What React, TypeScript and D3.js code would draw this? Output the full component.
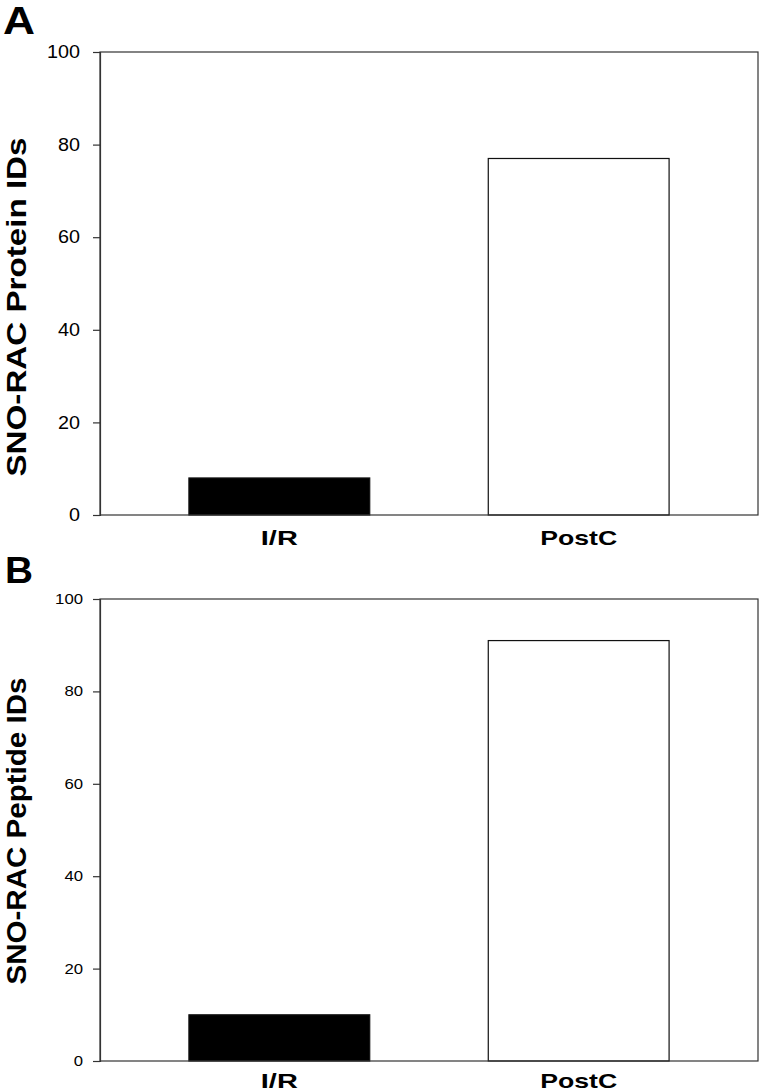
import { useEffect, useRef } from 'react';
import * as d3 from 'd3';

const categories = ['I/R', 'PostC'];
const proteinIds = [8, 77];
const peptideIds = [10, 91];
const yTicks = [0, 20, 40, 60, 80, 100];
const barColors = ['#000000', '#ffffff'];

const W = 760;
const H = 1091;
const FONT = '"Liberation Sans", Arial, sans-serif';

const App = () => {
    const svgRef = useRef(null);

    useEffect(() => {
        const svg = d3.select(svgRef.current);
        svg.selectAll('*').remove();

        // the original figure is stretched sideways a bit, so text widths are fixed with textLength
        const panels = [
            {
                letter: 'A', letterX: 3, letterY: 34, letterSize: 39, letterLen: 32,
                title: 'SNO-RAC Protein IDs', titleY: 307, titleSize: 28.5, titleLen: 339,
                values: proteinIds, top: 52, bottom: 515,
                tickFont: 17.5, digitW: 11, tickPad: 13, catOffset: 30,
            },
            {
                letter: 'B', letterX: 5, letterY: 583, letterSize: 36, letterLen: 28,
                title: 'SNO-RAC Peptide IDs', titleY: 831, titleSize: 28.5, titleLen: 307,
                values: peptideIds, top: 599, bottom: 1061,
                tickFont: 14, digitW: 9.3, tickPad: 10, catOffset: 27,
            },
        ];
        const catLen = { 'I/R': 37, 'PostC': 77 };

        const left = 100;
        const right = 758;

        panels.forEach(p => {
            const x = d3.scaleBand()
                .domain(categories)
                .range([left, right])
                .paddingInner(0.396)
                .paddingOuter(0.297);
            const y = d3.scaleLinear().domain([0, 100]).range([p.bottom, p.top]);

            const g = svg.append('g');

            // bars
            g.selectAll('rect.bar')
                .data(p.values)
                .enter()
                .append('rect')
                .attr('class', 'bar')
                .attr('x', (d, i) => x(categories[i]))
                .attr('y', d => y(d))
                .attr('width', x.bandwidth())
                .attr('height', d => p.bottom - y(d))
                .attr('fill', (d, i) => barColors[i])
                .attr('stroke', '#111')
                .attr('stroke-width', 1.2);

            // frame
            g.append('rect')
                .attr('x', left)
                .attr('y', p.top)
                .attr('width', right - left)
                .attr('height', p.bottom - p.top)
                .attr('fill', 'none')
                .attr('stroke', '#333')
                .attr('stroke-width', 1.2);

            // y axis
            const yAxis = g.append('g')
                .attr('transform', `translate(${left},0)`)
                .call(d3.axisLeft(y).tickValues(yTicks).tickSize(7).tickPadding(p.tickPad));
            yAxis.select('.domain').attr('stroke', '#333').attr('stroke-width', 1.2);
            yAxis.selectAll('.tick line').attr('stroke', '#333').attr('stroke-width', 1.2);
            yAxis.selectAll('.tick text')
                .attr('fill', '#000')
                .attr('textLength', d => String(d).length * p.digitW)
                .attr('lengthAdjust', 'spacingAndGlyphs')
                .style('font-family', FONT)
                .style('font-size', `${p.tickFont}px`);

            // category labels
            g.selectAll('text.cat')
                .data(categories)
                .enter()
                .append('text')
                .attr('class', 'cat')
                .attr('x', d => x(d) + x.bandwidth() / 2)
                .attr('y', p.bottom + p.catOffset)
                .attr('text-anchor', 'middle')
                .attr('textLength', d => catLen[d])
                .attr('lengthAdjust', 'spacingAndGlyphs')
                .style('font-family', FONT)
                .style('font-size', '21px')
                .style('font-weight', 'bold')
                .text(d => d);

            // y title
            g.append('text')
                .attr('transform', `translate(26, ${p.titleY}) rotate(-90)`)
                .attr('text-anchor', 'middle')
                .attr('textLength', p.titleLen)
                .attr('lengthAdjust', 'spacingAndGlyphs')
                .style('font-family', FONT)
                .style('font-size', `${p.titleSize}px`)
                .style('font-weight', 'bold')
                .text(p.title);

            // panel letter
            g.append('text')
                .attr('x', p.letterX)
                .attr('y', p.letterY)
                .attr('textLength', p.letterLen)
                .attr('lengthAdjust', 'spacingAndGlyphs')
                .style('font-family', FONT)
                .style('font-size', `${p.letterSize}px`)
                .style('font-weight', 'bold')
                .text(p.letter);
        });
    }, []);

    return (
        <svg ref={svgRef} width={W} height={H}
            style={{ position: 'absolute', left: 0, top: 0, background: '#fff' }} />
    );
};

export default App;
